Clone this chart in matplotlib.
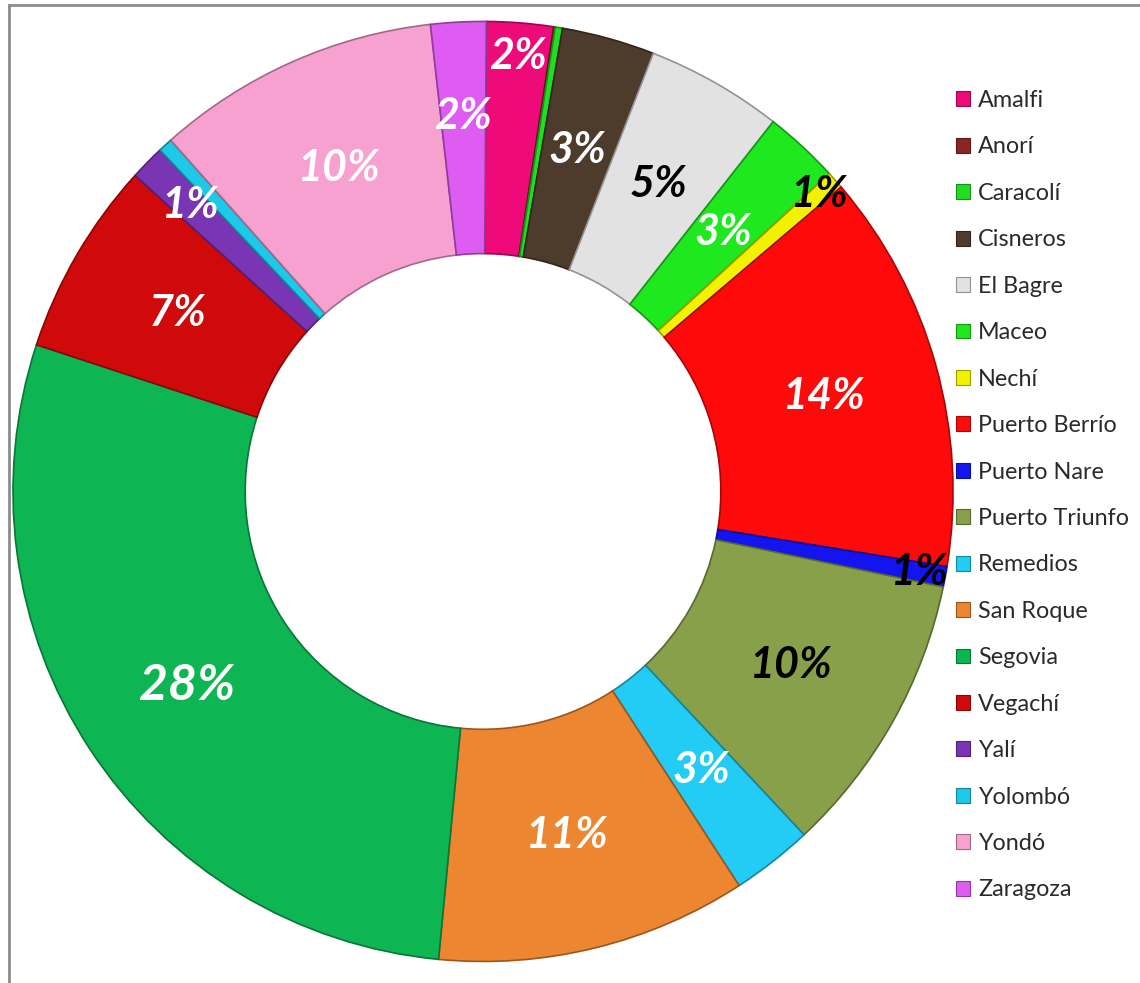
import numpy as np
import matplotlib
matplotlib.use('Agg')
import matplotlib.pyplot as plt
import matplotlib.colors as mcolors
from matplotlib.patches import Patch
from matplotlib.lines import Line2D

plt.rcParams['font.family'] = ['Lato', 'DejaVu Sans']

# municipios y su participacion
municipios = ['Amalfi', 'Anorí', 'Caracolí', 'Cisneros', 'El Bagre', 'Maceo', 'Nechí',
              'Puerto Berrío', 'Puerto Nare', 'Puerto Triunfo', 'Remedios', 'San Roque',
              'Segovia', 'Vegachí', 'Yalí', 'Yolombó', 'Yondó', 'Zaragoza']
valores = [2.3, 0.05, 0.25, 3.2, 4.7, 2.6, 0.6, 13.8, 0.7, 9.8, 2.8, 10.7,
           28.6, 6.7, 1.2, 0.5, 9.8, 1.9]
etiquetas = ['2%', '', '', '3%', '5%', '3%', '1%', '14%', '1%', '10%', '3%', '11%',
             '28%', '7%', '1%', '', '10%', '2%']
colores = ['#EE0A78', '#8B2525', '#22DD22', '#4D3B2B', '#E2E2E2', '#1EE81E', '#F2F200',
           '#FF0A0A', '#1414F0', '#88A04A', '#22CCF5', '#EC8630', '#0DB553', '#D00A0A',
           '#7A35B5', '#1EC8E8', '#F7A1D0', '#DF5CF2']

# estilo de etiquetas
negras = {'El Bagre', 'Nechí', 'Puerto Nare', 'Puerto Triunfo'}
radio_etq = {'Amalfi': 0.93, 'Nechí': 0.955, 'Puerto Nare': 0.945, 'Yalí': 0.87,
             'Zaragoza': 0.80}
tam_etq = {'Segovia': 36}

fig = plt.figure(figsize=(11.4, 9.83), dpi=100)
ax = fig.add_axes([0.0114, 0.0219, 0.8246, 0.9563])

def oscuro(c, f=0.65):
    r, g, b = mcolors.to_rgb(c)
    return (r * f, g * f, b * f)

wedges, _ = ax.pie(valores, colors=colores, startangle=89.6, counterclock=False,
                   radius=1.0, wedgeprops=dict(width=0.494, linewidth=1.2))
for w, c in zip(wedges, colores):
    w.set_edgecolor(oscuro(c))

for w, nombre, etq in zip(wedges, municipios, etiquetas):
    if not etq:
        continue
    ang = np.deg2rad((w.theta1 + w.theta2) / 2)
    r = radio_etq.get(nombre, 0.753)
    col = 'black' if nombre in negras else 'white'
    ax.text(r * np.cos(ang), r * np.sin(ang), etq, ha='center', va='center',
            fontsize=tam_etq.get(nombre, 31), fontweight='bold', fontstyle='italic',
            color=col)

ax.set_xlim(-1, 1)
ax.set_ylim(-1, 1)
ax.axis('off')

# leyenda
handles = [Patch(facecolor=c, edgecolor=oscuro(c), linewidth=0.8) for c in colores]
fig.legend(handles, municipios, loc='upper left', bbox_to_anchor=(0.8385, 0.9084),
           frameon=False, fontsize=16.8, handlelength=0.6, handleheight=0.6,
           handletextpad=0.35, labelspacing=1.09, borderpad=0, borderaxespad=0,
           labelcolor='#2A2A2A')

# marco gris
fig.add_artist(Line2D([0.0075, 0.0075], [0.0, 0.995], color='#8C8C8C', lw=2))
fig.add_artist(Line2D([0.0075, 1.0], [0.995, 0.995], color='#8C8C8C', lw=2))

fig.savefig('out.png', dpi=100)
